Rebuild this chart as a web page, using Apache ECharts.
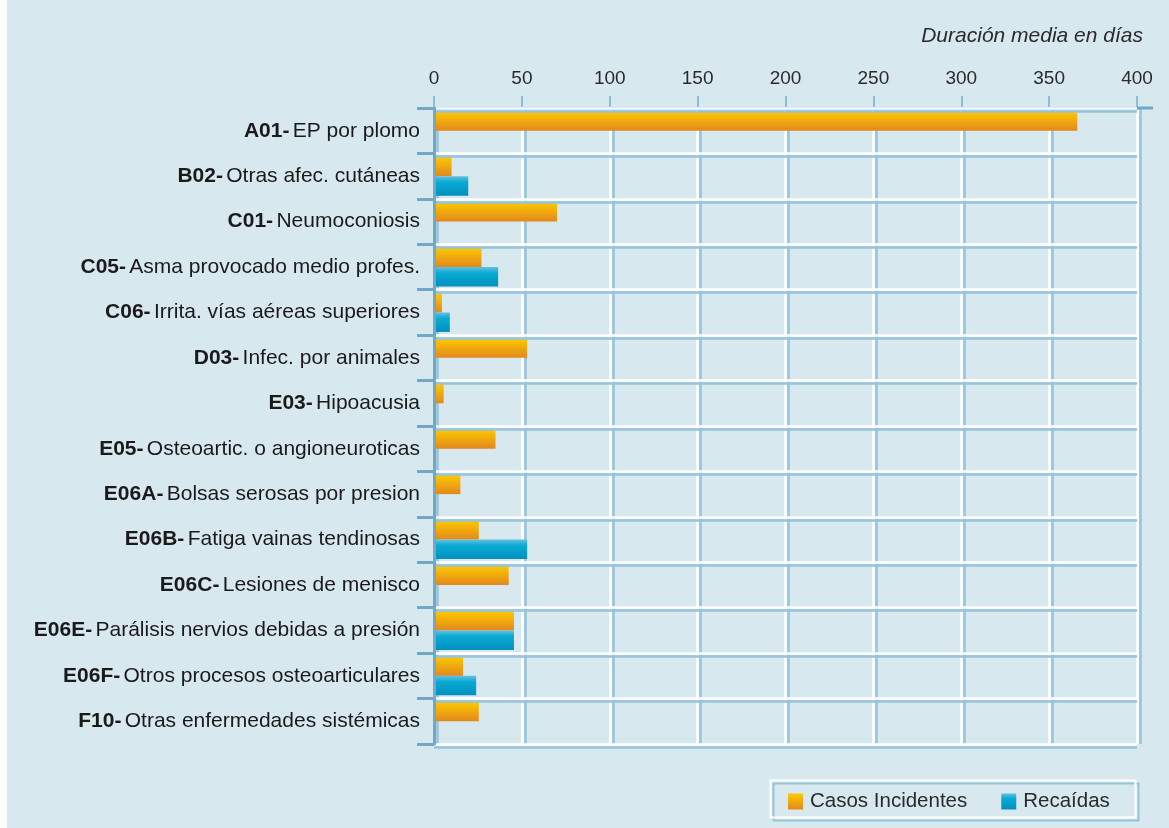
<!DOCTYPE html>
<html>
<head>
<meta charset="utf-8">
<script src="https://cdn.jsdelivr.net/npm/echarts@6/dist/echarts.min.js"></script>
<style>
html,body{margin:0;padding:0;background:#fff;}
#c{width:1169px;height:828px;}
</style>
</head>
<body>
<div id="c"></div>
<script>
// Data
const codes = ['A01-', 'B02-', 'C01-', 'C05-', 'C06-', 'D03-', 'E03-', 'E05-', 'E06A-', 'E06B-', 'E06C-', 'E06E-', 'E06F-', 'F10-'];
const names = ['EP por plomo', 'Otras afec. cutáneas', 'Neumoconiosis', 'Asma provocado medio profes.', 'Irrita. vías aéreas superiores', 'Infec. por animales', 'Hipoacusia', 'Osteoartic. o angioneuroticas', 'Bolsas serosas por presion', 'Fatiga vainas tendinosas', 'Lesiones de menisco', 'Parálisis nervios debidas a presión', 'Otros procesos osteoarticulares', 'Otras enfermedades sistémicas'];
const casosIncidentes = [366, 10, 70, 27, 4.5, 53, 5.5, 35, 15, 25.5, 42.5, 45.5, 16.5, 25.5];
const recaidas = [null, 19.5, null, 36.5, 9, null, null, null, null, 53, null, 45.5, 24, null];
const xTicks = [0, 50, 100, 150, 200, 250, 300, 350, 400];
const seriesNames = ['Casos Incidentes', 'Recaídas'];
const axisTitle = 'Duración media en días';

const categories = codes.map((c, i) => c + '|' + names[i]);
const FONT = 'Liberation Sans';
const BG = '#d8e8ef';
const AXIS = '#6eaac8';
const SHADOW = '#95c3da';

const orangeGrad = new echarts.graphic.LinearGradient(0, 0, 0, 1, [
  {offset: 0, color: '#fdca00'},
  {offset: 1, color: '#e3881c'}
]);
const blueGrad = new echarts.graphic.LinearGradient(0, 0, 0, 1, [
  {offset: 0, color: '#66c0e0'},
  {offset: 0.3, color: '#0aaad4'},
  {offset: 1, color: '#0090bf'}
]);

const chart = echarts.init(document.getElementById('c'), null, {renderer: 'canvas'});
chart.setOption({
  backgroundColor: BG,
  animation: false,
  title: {
    text: axisTitle,
    right: 21, top: 21,
    textStyle: {fontFamily: FONT, fontStyle: 'italic', fontWeight: 'normal', fontSize: 21, color: '#2a2a2a'}
  },
  legend: {
    data: seriesNames,
    left: 783, top: 786,
    itemWidth: 15, itemHeight: 16, itemGap: 34,
    icon: 'rect',
    textStyle: {fontFamily: FONT, fontSize: 20.5, color: '#2a2a2a', padding: [0, 0, 0, 2]}
  },
  graphic: [
    {type: 'rect', left: 0, top: 0, shape: {width: 7, height: 828}, style: {fill: '#ffffff'}, silent: true},
    {type: 'rect', left: 768, top: 778, shape: {x: 0, y: 0, width: 365, height: 37},
     style: {fill: 'none', stroke: '#ffffff', lineWidth: 2, shadowColor: SHADOW, shadowOffsetX: 3, shadowOffsetY: 3, shadowBlur: 0}, silent: true, z: 10},
    {type: 'line', shape: {x1: 1137, y1: 108, x2: 1153, y2: 108}, style: {stroke: AXIS, lineWidth: 3}, silent: true, z: 10}
  ],
  grid: {left: 434, top: 108, right: 32, bottom: 84, containLabel: false},
  xAxis: {
    type: 'value', position: 'top', min: 0, max: 400, interval: 50,
    axisLine: {show: true, lineStyle: {color: AXIS, width: 3}},
    axisTick: {show: true, length: 12, lineStyle: {color: '#8bbfd8', width: 2}},
    axisLabel: {
      margin: 20, fontFamily: FONT, fontSize: 19, color: '#2a2a2a',
      formatter: v => xTicks.indexOf(v) >= 0 ? String(v) : ''
    },
    splitLine: {show: true, lineStyle: {color: '#ffffff', width: 2.5, shadowColor: SHADOW, shadowOffsetX: 3, shadowBlur: 0}}
  },
  yAxis: {
    type: 'category', inverse: true, data: categories,
    axisLine: {show: true, lineStyle: {color: AXIS, width: 3}},
    axisTick: {show: true, length: 17, interval: 0, lineStyle: {color: AXIS, width: 3}},
    splitLine: {show: true, interval: 0, lineStyle: {color: '#ffffff', width: 2.5, shadowColor: SHADOW, shadowOffsetY: 3, shadowBlur: 0}},
    axisLabel: {
      interval: 0, margin: 14,
      formatter: v => { const p = v.split('|'); return '{b|' + p[0] + '} {n|' + p[1] + '}'; },
      rich: {
        b: {fontFamily: FONT, fontWeight: 'bold', fontSize: 21, color: '#1a1a1a'},
        n: {fontFamily: FONT, fontSize: 21, color: '#1a1a1a'}
      }
    },
    z: 3
  },
  series: [
    {name: seriesNames[0], type: 'bar', data: casosIncidentes, barWidth: 19.5, barGap: '0%', itemStyle: {color: orangeGrad}, z: 2},
    {name: seriesNames[1], type: 'bar', data: recaidas, barWidth: 19.5, barGap: '0%', itemStyle: {color: blueGrad}, z: 2}
  ]
});
</script>
</body>
</html>
